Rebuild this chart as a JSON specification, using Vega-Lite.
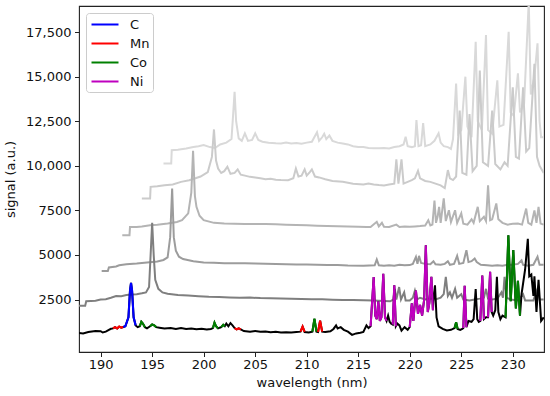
{
"$schema": "https://vega.github.io/schema/vega-lite/v6.json",
"width": 465, "height": 346,
"autosize": {"type": "none"},
"padding": {"left": 79, "top": 6, "right": 6, "bottom": 44},
"background": "white",
"config": {
  "font": "DejaVu Sans",
  "view": {"stroke": "#222222", "strokeWidth": 1.1},
  "axis": {"domain": false, "grid": false, "tickColor": "#222222", "tickSize": 4.5, "tickWidth": 1,
           "labelFontSize": 13, "labelColor": "#111111", "titleFontSize": 13, "titleFontWeight": "normal", "titleColor": "#111111"}
},
"datasets": {
"gray": [
{"s":"g5","w":196.1,"v":10130},{"s":"g5","w":196.85,"v":10130},{"s":"g5","w":196.9,"v":10880},{"s":"g5","w":197.5,"v":10900},{"s":"g5","w":198.3,"v":10970},{"s":"g5","w":199.0,"v":11050},{"s":"g5","w":199.5,"v":11100},{"s":"g5","w":200.0,"v":11160},{"s":"g5","w":200.6,"v":11050},{"s":"g5","w":201.1,"v":11000},{"s":"g5","w":201.6,"v":11200},{"s":"g5","w":202.2,"v":11300},{"s":"g5","w":202.7,"v":11500},{"s":"g5","w":202.85,"v":12800},{"s":"g5","w":203.0,"v":14150},{"s":"g5","w":203.15,"v":12500},{"s":"g5","w":203.4,"v":11540},{"s":"g5","w":203.7,"v":11400},{"s":"g5","w":204.0,"v":11820},{"s":"g5","w":204.3,"v":11400},{"s":"g5","w":204.7,"v":11450},{"s":"g5","w":205.0,"v":11820},{"s":"g5","w":205.3,"v":11450},{"s":"g5","w":205.7,"v":11350},{"s":"g5","w":206.3,"v":11300},{"s":"g5","w":207.0,"v":11260},{"s":"g5","w":207.5,"v":11250},{"s":"g5","w":208.0,"v":11300},{"s":"g5","w":208.5,"v":11250},{"s":"g5","w":209.0,"v":11280},{"s":"g5","w":209.5,"v":11240},{"s":"g5","w":210.0,"v":11300},{"s":"g5","w":210.5,"v":11350},{"s":"g5","w":211.0,"v":11880},{"s":"g5","w":211.2,"v":11400},{"s":"g5","w":211.5,"v":11600},{"s":"g5","w":211.7,"v":11800},{"s":"g5","w":211.9,"v":11500},{"s":"g5","w":212.2,"v":11700},{"s":"g5","w":212.5,"v":11400},{"s":"g5","w":213.0,"v":11300},{"s":"g5","w":213.5,"v":11250},{"s":"g5","w":214.0,"v":11200},{"s":"g5","w":214.5,"v":11100},{"s":"g5","w":215.0,"v":11060},{"s":"g5","w":215.5,"v":11050},{"s":"g5","w":216.0,"v":11000},{"s":"g5","w":216.5,"v":10990},{"s":"g5","w":217.0,"v":10980},{"s":"g5","w":217.5,"v":11000},{"s":"g5","w":218.0,"v":10970},{"s":"g5","w":218.5,"v":11050},{"s":"g5","w":219.0,"v":11100},{"s":"g5","w":219.4,"v":11200},{"s":"g5","w":219.6,"v":11630},{"s":"g5","w":219.8,"v":11100},{"s":"g5","w":220.2,"v":11050},{"s":"g5","w":220.5,"v":11100},{"s":"g5","w":220.65,"v":12560},{"s":"g5","w":220.85,"v":11100},{"s":"g5","w":221.1,"v":11150},{"s":"g5","w":221.3,"v":12400},{"s":"g5","w":221.5,"v":11100},{"s":"g5","w":222.0,"v":11200},{"s":"g5","w":222.4,"v":11400},{"s":"g5","w":222.8,"v":11820},{"s":"g5","w":223.0,"v":11300},{"s":"g5","w":223.3,"v":11100},{"s":"g5","w":223.7,"v":11050},{"s":"g5","w":224.0,"v":10950},{"s":"g5","w":224.2,"v":11500},{"s":"g5","w":224.5,"v":14620},{"s":"g5","w":224.7,"v":11800},{"s":"g5","w":225.0,"v":12000},{"s":"g5","w":225.4,"v":15000},{"s":"g5","w":225.6,"v":12200},{"s":"g5","w":226.0,"v":11600},{"s":"g5","w":226.4,"v":16960},{"s":"g5","w":226.6,"v":12500},{"s":"g5","w":227.0,"v":12000},{"s":"g5","w":227.4,"v":17340},{"s":"g5","w":227.6,"v":12000},{"s":"g5","w":228.0,"v":11800},{"s":"g5","w":228.5,"v":14800},{"s":"g5","w":228.7,"v":12200},{"s":"g5","w":229.1,"v":12300},{"s":"g5","w":229.6,"v":17520},{"s":"g5","w":229.8,"v":13000},{"s":"g5","w":230.1,"v":12800},{"s":"g5","w":230.5,"v":15190},{"s":"g5","w":230.7,"v":13000},{"s":"g5","w":231.1,"v":13500},{"s":"g5","w":231.55,"v":19200},{"s":"g5","w":231.75,"v":14000},{"s":"g5","w":232.1,"v":15000},{"s":"g5","w":232.4,"v":16870},{"s":"g5","w":232.6,"v":12500},{"s":"g5","w":232.75,"v":11600},{"s":"g5","w":233.0,"v":11600},
{"s":"g4","w":194.0,"v":8170},{"s":"g4","w":194.8,"v":8170},{"s":"g4","w":194.85,"v":8820},{"s":"g4","w":195.5,"v":8850},{"s":"g4","w":196.2,"v":8915},{"s":"g4","w":197.0,"v":8950},{"s":"g4","w":197.8,"v":9100},{"s":"g4","w":198.6,"v":9195},{"s":"g4","w":199.2,"v":9300},{"s":"g4","w":199.7,"v":9400},{"s":"g4","w":200.4,"v":9650},{"s":"g4","w":200.8,"v":10500},{"s":"g4","w":201.0,"v":12040},{"s":"g4","w":201.2,"v":10300},{"s":"g4","w":201.4,"v":9850},{"s":"g4","w":201.7,"v":9600},{"s":"g4","w":202.0,"v":9700},{"s":"g4","w":202.3,"v":9950},{"s":"g4","w":202.6,"v":9550},{"s":"g4","w":203.0,"v":9600},{"s":"g4","w":203.3,"v":9800},{"s":"g4","w":203.6,"v":9500},{"s":"g4","w":204.0,"v":9450},{"s":"g4","w":204.5,"v":9380},{"s":"g4","w":205.0,"v":9350},{"s":"g4","w":205.5,"v":9300},{"s":"g4","w":206.0,"v":9250},{"s":"g4","w":206.5,"v":9280},{"s":"g4","w":207.0,"v":9220},{"s":"g4","w":207.5,"v":9200},{"s":"g4","w":208.2,"v":9195},{"s":"g4","w":208.7,"v":9300},{"s":"g4","w":208.95,"v":9850},{"s":"g4","w":209.2,"v":9400},{"s":"g4","w":209.5,"v":9450},{"s":"g4","w":209.8,"v":9800},{"s":"g4","w":210.0,"v":9450},{"s":"g4","w":210.3,"v":9650},{"s":"g4","w":210.5,"v":9800},{"s":"g4","w":210.8,"v":9400},{"s":"g4","w":211.2,"v":9350},{"s":"g4","w":211.8,"v":9250},{"s":"g4","w":212.5,"v":9150},{"s":"g4","w":213.5,"v":9100},{"s":"g4","w":214.5,"v":9000},{"s":"g4","w":215.5,"v":8950},{"s":"g4","w":216.0,"v":9010},{"s":"g4","w":216.5,"v":8950},{"s":"g4","w":217.0,"v":8920},{"s":"g4","w":217.5,"v":8900},{"s":"g4","w":218.0,"v":8950},{"s":"g4","w":218.5,"v":9000},{"s":"g4","w":218.7,"v":10360},{"s":"g4","w":218.9,"v":9000},{"s":"g4","w":219.2,"v":10360},{"s":"g4","w":219.4,"v":9000},{"s":"g4","w":219.8,"v":9100},{"s":"g4","w":220.2,"v":9200},{"s":"g4","w":220.5,"v":9300},{"s":"g4","w":220.8,"v":9720},{"s":"g4","w":221.0,"v":9300},{"s":"g4","w":221.5,"v":9150},{"s":"g4","w":222.0,"v":9100},{"s":"g4","w":222.5,"v":9000},{"s":"g4","w":223.0,"v":8900},{"s":"g4","w":223.4,"v":8750},{"s":"g4","w":223.7,"v":9760},{"s":"g4","w":223.9,"v":9300},{"s":"g4","w":224.2,"v":9200},{"s":"g4","w":224.5,"v":9400},{"s":"g4","w":224.85,"v":13100},{"s":"g4","w":225.1,"v":9600},{"s":"g4","w":225.5,"v":9500},{"s":"g4","w":225.8,"v":12900},{"s":"g4","w":226.1,"v":9700},{"s":"g4","w":226.5,"v":10000},{"s":"g4","w":226.8,"v":15340},{"s":"g4","w":227.1,"v":10200},{"s":"g4","w":227.6,"v":10000},{"s":"g4","w":228.0,"v":13100},{"s":"g4","w":228.3,"v":10100},{"s":"g4","w":228.8,"v":9800},{"s":"g4","w":229.2,"v":10200},{"s":"g4","w":229.5,"v":10000},{"s":"g4","w":230.0,"v":14400},{"s":"g4","w":230.3,"v":10500},{"s":"g4","w":230.6,"v":10400},{"s":"g4","w":231.0,"v":14400},{"s":"g4","w":231.3,"v":10800},{"s":"g4","w":231.6,"v":11000},{"s":"g4","w":232.1,"v":15720},{"s":"g4","w":232.35,"v":10500},{"s":"g4","w":232.6,"v":10000},{"s":"g4","w":233.0,"v":9600},
{"s":"g3","w":192.1,"v":6110},{"s":"g3","w":192.8,"v":6110},{"s":"g3","w":192.85,"v":6570},{"s":"g3","w":193.5,"v":6570},{"s":"g3","w":194.0,"v":6600},{"s":"g3","w":194.8,"v":6670},{"s":"g3","w":195.5,"v":6700},{"s":"g3","w":196.5,"v":6760},{"s":"g3","w":197.4,"v":6850},{"s":"g3","w":197.9,"v":6950},{"s":"g3","w":198.5,"v":7330},{"s":"g3","w":198.8,"v":8500},{"s":"g3","w":198.97,"v":10840},{"s":"g3","w":199.15,"v":8300},{"s":"g3","w":199.3,"v":7700},{"s":"g3","w":199.6,"v":7200},{"s":"g3","w":200.0,"v":6950},{"s":"g3","w":201.0,"v":6800},{"s":"g3","w":202.0,"v":6760},{"s":"g3","w":203.0,"v":6750},{"s":"g3","w":204.0,"v":6740},{"s":"g3","w":205.0,"v":6740},{"s":"g3","w":206.0,"v":6730},{"s":"g3","w":207.0,"v":6720},{"s":"g3","w":208.0,"v":6700},{"s":"g3","w":209.0,"v":6680},{"s":"g3","w":210.0,"v":6660},{"s":"g3","w":211.0,"v":6640},{"s":"g3","w":212.0,"v":6620},{"s":"g3","w":213.0,"v":6610},{"s":"g3","w":214.0,"v":6600},{"s":"g3","w":215.0,"v":6580},{"s":"g3","w":215.8,"v":6570},{"s":"g3","w":216.2,"v":6570},{"s":"g3","w":216.8,"v":6860},{"s":"g3","w":217.0,"v":6600},{"s":"g3","w":217.3,"v":6800},{"s":"g3","w":217.5,"v":6580},{"s":"g3","w":218.0,"v":6570},{"s":"g3","w":218.7,"v":6700},{"s":"g3","w":219.0,"v":6570},{"s":"g3","w":219.5,"v":6600},{"s":"g3","w":220.0,"v":6580},{"s":"g3","w":220.5,"v":6600},{"s":"g3","w":221.0,"v":6620},{"s":"g3","w":221.5,"v":6650},{"s":"g3","w":221.8,"v":6950},{"s":"g3","w":222.0,"v":6650},{"s":"g3","w":222.2,"v":6700},{"s":"g3","w":222.4,"v":8050},{"s":"g3","w":222.55,"v":6800},{"s":"g3","w":222.7,"v":7140},{"s":"g3","w":222.85,"v":7700},{"s":"g3","w":223.0,"v":6800},{"s":"g3","w":223.3,"v":8170},{"s":"g3","w":223.5,"v":6900},{"s":"g3","w":223.8,"v":7510},{"s":"g3","w":224.0,"v":6850},{"s":"g3","w":224.4,"v":7510},{"s":"g3","w":224.6,"v":6800},{"s":"g3","w":225.0,"v":7330},{"s":"g3","w":225.2,"v":6750},{"s":"g3","w":225.6,"v":6700},{"s":"g3","w":226.0,"v":7000},{"s":"g3","w":226.2,"v":6800},{"s":"g3","w":226.6,"v":7700},{"s":"g3","w":226.8,"v":6900},{"s":"g3","w":227.2,"v":7140},{"s":"g3","w":227.4,"v":6900},{"s":"g3","w":227.6,"v":8900},{"s":"g3","w":227.8,"v":6950},{"s":"g3","w":228.0,"v":7000},{"s":"g3","w":228.4,"v":7890},{"s":"g3","w":228.6,"v":7000},{"s":"g3","w":229.0,"v":6800},{"s":"g3","w":229.5,"v":6700},{"s":"g3","w":230.0,"v":6750},{"s":"g3","w":230.5,"v":6760},{"s":"g3","w":230.9,"v":6700},{"s":"g3","w":231.3,"v":7600},{"s":"g3","w":231.5,"v":6800},{"s":"g3","w":231.8,"v":6700},{"s":"g3","w":232.1,"v":7500},{"s":"g3","w":232.3,"v":6800},{"s":"g3","w":232.5,"v":7700},{"s":"g3","w":232.7,"v":6760},{"s":"g3","w":233.0,"v":6700},
{"s":"g2","w":190.1,"v":4100},{"s":"g2","w":190.7,"v":4100},{"s":"g2","w":190.8,"v":4300},{"s":"g2","w":191.5,"v":4350},{"s":"g2","w":191.8,"v":4420},{"s":"g2","w":192.5,"v":4480},{"s":"g2","w":193.5,"v":4520},{"s":"g2","w":194.5,"v":4580},{"s":"g2","w":195.5,"v":4630},{"s":"g2","w":196.1,"v":4720},{"s":"g2","w":196.5,"v":4860},{"s":"g2","w":196.75,"v":6000},{"s":"g2","w":196.94,"v":8730},{"s":"g2","w":197.1,"v":6000},{"s":"g2","w":197.3,"v":5240},{"s":"g2","w":197.6,"v":4900},{"s":"g2","w":198.0,"v":4770},{"s":"g2","w":199.0,"v":4650},{"s":"g2","w":200.0,"v":4580},{"s":"g2","w":201.0,"v":4560},{"s":"g2","w":202.0,"v":4540},{"s":"g2","w":203.0,"v":4540},{"s":"g2","w":204.0,"v":4530},{"s":"g2","w":205.0,"v":4520},{"s":"g2","w":206.0,"v":4510},{"s":"g2","w":207.0,"v":4490},{"s":"g2","w":208.0,"v":4480},{"s":"g2","w":209.0,"v":4470},{"s":"g2","w":210.0,"v":4460},{"s":"g2","w":211.0,"v":4450},{"s":"g2","w":212.0,"v":4440},{"s":"g2","w":213.0,"v":4430},{"s":"g2","w":214.0,"v":4410},{"s":"g2","w":215.5,"v":4400},{"s":"g2","w":216.6,"v":4420},{"s":"g2","w":216.8,"v":4750},{"s":"g2","w":217.0,"v":4420},{"s":"g2","w":217.5,"v":4400},{"s":"g2","w":218.0,"v":4420},{"s":"g2","w":218.5,"v":4400},{"s":"g2","w":219.0,"v":4450},{"s":"g2","w":219.5,"v":4420},{"s":"g2","w":220.0,"v":4430},{"s":"g2","w":220.3,"v":4500},{"s":"g2","w":220.6,"v":4890},{"s":"g2","w":220.75,"v":4500},{"s":"g2","w":220.9,"v":4950},{"s":"g2","w":221.1,"v":4550},{"s":"g2","w":221.5,"v":4500},{"s":"g2","w":222.0,"v":4480},{"s":"g2","w":222.3,"v":4650},{"s":"g2","w":222.5,"v":4480},{"s":"g2","w":223.0,"v":4450},{"s":"g2","w":223.4,"v":4500},{"s":"g2","w":223.7,"v":4650},{"s":"g2","w":223.9,"v":4450},{"s":"g2","w":224.3,"v":4500},{"s":"g2","w":224.6,"v":4950},{"s":"g2","w":224.8,"v":4500},{"s":"g2","w":225.2,"v":4550},{"s":"g2","w":225.5,"v":5270},{"s":"g2","w":225.7,"v":4600},{"s":"g2","w":226.0,"v":4650},{"s":"g2","w":226.3,"v":4800},{"s":"g2","w":226.5,"v":4600},{"s":"g2","w":226.9,"v":4450},{"s":"g2","w":227.5,"v":4420},{"s":"g2","w":228.0,"v":4400},{"s":"g2","w":228.5,"v":4420},{"s":"g2","w":229.0,"v":4400},{"s":"g2","w":229.5,"v":4450},{"s":"g2","w":230.0,"v":4450},{"s":"g2","w":230.5,"v":4500},{"s":"g2","w":230.85,"v":4700},{"s":"g2","w":231.0,"v":4450},{"s":"g2","w":231.5,"v":4400},{"s":"g2","w":232.0,"v":4450},{"s":"g2","w":232.4,"v":4900},{"s":"g2","w":232.6,"v":4450},{"s":"g2","w":233.0,"v":4450},
{"s":"g1","w":187.9,"v":2150},{"s":"g1","w":188.5,"v":2150},{"s":"g1","w":188.6,"v":2400},{"s":"g1","w":189.5,"v":2430},{"s":"g1","w":190.0,"v":2500},{"s":"g1","w":190.5,"v":2520},{"s":"g1","w":191.0,"v":2600},{"s":"g1","w":191.5,"v":2700},{"s":"g1","w":192.0,"v":2680},{"s":"g1","w":192.5,"v":2750},{"s":"g1","w":193.0,"v":2780},{"s":"g1","w":193.5,"v":2800},{"s":"g1","w":194.0,"v":2850},{"s":"g1","w":194.4,"v":2900},{"s":"g1","w":194.7,"v":3200},{"s":"g1","w":194.85,"v":5000},{"s":"g1","w":195.0,"v":6800},{"s":"g1","w":195.15,"v":5000},{"s":"g1","w":195.3,"v":3600},{"s":"g1","w":195.6,"v":3100},{"s":"g1","w":196.0,"v":2900},{"s":"g1","w":196.5,"v":2820},{"s":"g1","w":197.5,"v":2750},{"s":"g1","w":198.5,"v":2720},{"s":"g1","w":199.5,"v":2680},{"s":"g1","w":200.5,"v":2650},{"s":"g1","w":201.5,"v":2640},{"s":"g1","w":202.5,"v":2620},{"s":"g1","w":203.5,"v":2600},{"s":"g1","w":204.5,"v":2610},{"s":"g1","w":205.5,"v":2580},{"s":"g1","w":206.5,"v":2570},{"s":"g1","w":207.5,"v":2560},{"s":"g1","w":208.5,"v":2540},{"s":"g1","w":209.5,"v":2530},{"s":"g1","w":210.5,"v":2520},{"s":"g1","w":211.5,"v":2510},{"s":"g1","w":212.5,"v":2490},{"s":"g1","w":213.5,"v":2480},{"s":"g1","w":214.5,"v":2470},{"s":"g1","w":215.5,"v":2460},{"s":"g1","w":216.5,"v":2440},{"s":"g1","w":217.5,"v":2420},{"s":"g1","w":218.1,"v":2400},{"s":"g1","w":218.4,"v":2500},{"s":"g1","w":218.55,"v":3100},{"s":"g1","w":218.7,"v":2500},{"s":"g1","w":218.97,"v":3200},{"s":"g1","w":219.15,"v":2500},{"s":"g1","w":219.46,"v":2900},{"s":"g1","w":219.6,"v":2450},{"s":"g1","w":220.0,"v":2450},{"s":"g1","w":220.3,"v":2600},{"s":"g1","w":220.5,"v":3000},{"s":"g1","w":220.7,"v":2500},{"s":"g1","w":221.0,"v":2600},{"s":"g1","w":221.5,"v":2500},{"s":"g1","w":222.0,"v":2550},{"s":"g1","w":222.5,"v":2500},{"s":"g1","w":223.0,"v":2600},{"s":"g1","w":223.3,"v":2800},{"s":"g1","w":223.5,"v":3770},{"s":"g1","w":223.7,"v":2700},{"s":"g1","w":223.9,"v":2900},{"s":"g1","w":224.1,"v":2600},{"s":"g1","w":224.4,"v":3100},{"s":"g1","w":224.6,"v":2600},{"s":"g1","w":225.0,"v":2800},{"s":"g1","w":225.2,"v":2500},{"s":"g1","w":225.8,"v":2450},{"s":"g1","w":226.3,"v":2500},{"s":"g1","w":226.8,"v":2550},{"s":"g1","w":227.2,"v":2600},{"s":"g1","w":227.4,"v":3100},{"s":"g1","w":227.6,"v":2550},{"s":"g1","w":228.0,"v":2500},{"s":"g1","w":228.5,"v":2550},{"s":"g1","w":228.9,"v":2900},{"s":"g1","w":229.05,"v":2600},{"s":"g1","w":229.2,"v":3770},{"s":"g1","w":229.4,"v":2600},{"s":"g1","w":229.8,"v":2500},{"s":"g1","w":230.5,"v":2450},{"s":"g1","w":231.0,"v":2800},{"s":"g1","w":231.2,"v":2450},{"s":"g1","w":232.0,"v":2450},{"s":"g1","w":232.4,"v":3100},{"s":"g1","w":232.6,"v":2500},{"s":"g1","w":233.0,"v":2500}
],
"black": [
{"w":187.9,"v":620},{"w":188.3,"v":600},{"w":188.8,"v":680},{"w":189.5,"v":740},{"w":190.0,"v":720},{"w":190.2,"v":650},{"w":190.5,"v":700},{"w":190.8,"v":800},{"w":191.0,"v":860},{"w":191.2,"v":880},{"w":191.4,"v":950},{"w":191.6,"v":880},{"w":191.8,"v":980},{"w":192.0,"v":920},{"w":192.2,"v":960},{"w":192.4,"v":1000},{"w":192.7,"v":1500},{"w":192.85,"v":3000},{"w":192.95,"v":3430},{"w":193.05,"v":3000},{"w":193.2,"v":1500},{"w":193.4,"v":1050},{"w":193.6,"v":950},{"w":193.8,"v":1000},{"w":193.95,"v":1250},{"w":194.1,"v":1150},{"w":194.3,"v":950},{"w":194.5,"v":880},{"w":194.8,"v":1000},{"w":195.0,"v":1100},{"w":195.2,"v":1050},{"w":195.4,"v":950},{"w":195.7,"v":920},{"w":196.2,"v":870},{"w":196.8,"v":900},{"w":197.3,"v":850},{"w":197.8,"v":900},{"w":198.3,"v":850},{"w":198.8,"v":880},{"w":199.3,"v":840},{"w":199.8,"v":860},{"w":200.3,"v":820},{"w":200.7,"v":850},{"w":200.9,"v":900},{"w":201.05,"v":1200},{"w":201.2,"v":1000},{"w":201.4,"v":880},{"w":201.55,"v":920},{"w":201.7,"v":950},{"w":201.9,"v":1080},{"w":202.05,"v":1000},{"w":202.2,"v":1150},{"w":202.4,"v":1000},{"w":202.6,"v":1180},{"w":202.8,"v":1050},{"w":203.0,"v":900},{"w":203.2,"v":830},{"w":203.4,"v":880},{"w":203.6,"v":820},{"w":203.9,"v":730},{"w":204.5,"v":700},{"w":205.0,"v":740},{"w":205.5,"v":690},{"w":206.0,"v":700},{"w":206.5,"v":660},{"w":207.0,"v":690},{"w":207.5,"v":650},{"w":208.0,"v":670},{"w":208.5,"v":650},{"w":209.0,"v":680},{"w":209.4,"v":700},{"w":209.6,"v":980},{"w":209.8,"v":680},{"w":210.2,"v":650},{"w":210.55,"v":700},{"w":210.75,"v":1420},{"w":210.95,"v":700},{"w":211.1,"v":680},{"w":211.3,"v":1320},{"w":211.5,"v":700},{"w":211.8,"v":680},{"w":212.3,"v":720},{"w":212.6,"v":850},{"w":212.85,"v":1050},{"w":213.0,"v":880},{"w":213.3,"v":950},{"w":213.6,"v":800},{"w":214.0,"v":700},{"w":214.4,"v":520},{"w":214.8,"v":600},{"w":215.2,"v":640},{"w":215.5,"v":680},{"w":215.8,"v":1050},{"w":216.0,"v":900},{"w":216.2,"v":1000},{"w":216.5,"v":3760},{"w":216.65,"v":1600},{"w":216.8,"v":1400},{"w":216.95,"v":2400},{"w":217.1,"v":1300},{"w":217.25,"v":1500},{"w":217.43,"v":3950},{"w":217.6,"v":1500},{"w":217.75,"v":1300},{"w":217.9,"v":1600},{"w":218.05,"v":1250},{"w":218.2,"v":1150},{"w":218.35,"v":1100},{"w":218.5,"v":3300},{"w":218.65,"v":1000},{"w":218.8,"v":1150},{"w":219.0,"v":1050},{"w":219.2,"v":760},{"w":219.5,"v":950},{"w":219.8,"v":800},{"w":220.0,"v":960},{"w":220.2,"v":2280},{"w":220.35,"v":1300},{"w":220.6,"v":3000},{"w":220.8,"v":1700},{"w":221.0,"v":2200},{"w":221.2,"v":1600},{"w":221.4,"v":2500},{"w":221.56,"v":5540},{"w":221.75,"v":1800},{"w":221.9,"v":2300},{"w":222.1,"v":3770},{"w":222.25,"v":1900},{"w":222.3,"v":2500},{"w":222.45,"v":3300},{"w":222.6,"v":1500},{"w":222.8,"v":1000},{"w":223.2,"v":850},{"w":223.6,"v":770},{"w":224.0,"v":800},{"w":224.35,"v":900},{"w":224.5,"v":1220},{"w":224.65,"v":850},{"w":224.9,"v":800},{"w":225.1,"v":850},{"w":225.2,"v":900},{"w":225.33,"v":3270},{"w":225.5,"v":950},{"w":225.7,"v":1300},{"w":226.0,"v":1250},{"w":226.2,"v":1400},{"w":226.4,"v":3090},{"w":226.55,"v":1400},{"w":226.7,"v":1250},{"w":226.85,"v":1300},{"w":227.04,"v":3840},{"w":227.2,"v":1400},{"w":227.4,"v":1500},{"w":227.6,"v":1500},{"w":227.8,"v":4050},{"w":227.95,"v":1800},{"w":228.1,"v":1600},{"w":228.3,"v":1900},{"w":228.46,"v":3770},{"w":228.6,"v":1800},{"w":228.8,"v":1400},{"w":229.0,"v":1600},{"w":229.3,"v":1500},{"w":229.57,"v":6110},{"w":229.8,"v":2400},{"w":230.05,"v":5270},{"w":230.3,"v":2000},{"w":230.5,"v":3550},{"w":230.7,"v":1600},{"w":230.85,"v":2800},{"w":231.0,"v":3400},{"w":231.2,"v":4200},{"w":231.46,"v":5900},{"w":231.6,"v":3800},{"w":231.8,"v":3900},{"w":232.0,"v":2700},{"w":232.1,"v":3800},{"w":232.3,"v":1800},{"w":232.5,"v":3600},{"w":232.75,"v":1300},{"w":233.0,"v":1500}
],
"elem": [
{"el":"Mn","seg":1,"w":191.2,"v":880},{"el":"Mn","seg":1,"w":191.4,"v":950},{"el":"Mn","seg":1,"w":191.6,"v":880},{"el":"Mn","seg":1,"w":191.8,"v":980},{"el":"Mn","seg":1,"w":192.0,"v":920},{"el":"Mn","seg":1,"w":192.2,"v":960},
{"el":"C","seg":2,"w":192.2,"v":960},{"el":"C","seg":2,"w":192.4,"v":1000},{"el":"C","seg":2,"w":192.7,"v":1500},{"el":"C","seg":2,"w":192.85,"v":3000},{"el":"C","seg":2,"w":192.95,"v":3430},{"el":"C","seg":2,"w":193.05,"v":3000},{"el":"C","seg":2,"w":193.2,"v":1500},{"el":"C","seg":2,"w":193.4,"v":1050},
{"el":"Co","seg":3,"w":193.8,"v":1000},{"el":"Co","seg":3,"w":193.95,"v":1250},{"el":"Co","seg":3,"w":194.1,"v":1150},{"el":"Co","seg":3,"w":194.3,"v":950},
{"el":"Co","seg":4,"w":194.8,"v":1000},{"el":"Co","seg":4,"w":195.0,"v":1100},{"el":"Co","seg":4,"w":195.2,"v":1050},{"el":"Co","seg":4,"w":195.4,"v":950},
{"el":"Co","seg":5,"w":200.9,"v":900},{"el":"Co","seg":5,"w":201.05,"v":1200},{"el":"Co","seg":5,"w":201.2,"v":1000},{"el":"Co","seg":5,"w":201.4,"v":880},
{"el":"Co","seg":6,"w":201.7,"v":950},{"el":"Co","seg":6,"w":201.9,"v":1080},{"el":"Co","seg":6,"w":202.05,"v":1000},
{"el":"Mn","seg":7,"w":203.0,"v":900},{"el":"Mn","seg":7,"w":203.2,"v":830},{"el":"Mn","seg":7,"w":203.4,"v":880},{"el":"Mn","seg":7,"w":203.6,"v":820},
{"el":"Mn","seg":8,"w":209.4,"v":700},{"el":"Mn","seg":8,"w":209.6,"v":980},{"el":"Mn","seg":8,"w":209.8,"v":680},
{"el":"Co","seg":9,"w":210.55,"v":700},{"el":"Co","seg":9,"w":210.75,"v":1420},{"el":"Co","seg":9,"w":210.95,"v":700},
{"el":"Mn","seg":10,"w":211.1,"v":680},{"el":"Mn","seg":10,"w":211.3,"v":1320},{"el":"Mn","seg":10,"w":211.5,"v":700},
{"el":"Ni","seg":11,"w":216.2,"v":1000},{"el":"Ni","seg":11,"w":216.5,"v":3760},{"el":"Ni","seg":11,"w":216.65,"v":1600},{"el":"Ni","seg":11,"w":216.8,"v":1400},{"el":"Ni","seg":11,"w":216.95,"v":2400},{"el":"Ni","seg":11,"w":217.1,"v":1300},{"el":"Ni","seg":11,"w":217.25,"v":1500},{"el":"Ni","seg":11,"w":217.43,"v":3950},{"el":"Ni","seg":11,"w":217.6,"v":1500},{"el":"Ni","seg":11,"w":217.75,"v":1300},
{"el":"Ni","seg":12,"w":218.35,"v":1100},{"el":"Ni","seg":12,"w":218.5,"v":3300},{"el":"Ni","seg":12,"w":218.65,"v":1000},
{"el":"Ni","seg":13,"w":220.0,"v":960},{"el":"Ni","seg":13,"w":220.2,"v":2280},{"el":"Ni","seg":13,"w":220.35,"v":1300},{"el":"Ni","seg":13,"w":220.6,"v":3000},{"el":"Ni","seg":13,"w":220.8,"v":1700},{"el":"Ni","seg":13,"w":221.0,"v":2200},{"el":"Ni","seg":13,"w":221.2,"v":1600},{"el":"Ni","seg":13,"w":221.4,"v":2500},{"el":"Ni","seg":13,"w":221.56,"v":5540},{"el":"Ni","seg":13,"w":221.75,"v":1800},{"el":"Ni","seg":13,"w":221.9,"v":2300},{"el":"Ni","seg":13,"w":222.1,"v":3770},{"el":"Ni","seg":13,"w":222.25,"v":1900},
{"el":"Co","seg":14,"w":224.35,"v":900},{"el":"Co","seg":14,"w":224.5,"v":1220},{"el":"Co","seg":14,"w":224.65,"v":850},
{"el":"Ni","seg":15,"w":225.2,"v":900},{"el":"Ni","seg":15,"w":225.33,"v":3270},{"el":"Ni","seg":15,"w":225.5,"v":950},
{"el":"Ni","seg":16,"w":226.85,"v":1300},{"el":"Ni","seg":16,"w":227.04,"v":3840},{"el":"Ni","seg":16,"w":227.2,"v":1400},
{"el":"Ni","seg":17,"w":227.6,"v":1500},{"el":"Ni","seg":17,"w":227.8,"v":4050},{"el":"Ni","seg":17,"w":227.95,"v":1800},
{"el":"Co","seg":18,"w":229.3,"v":1500},{"el":"Co","seg":18,"w":229.57,"v":6110},{"el":"Co","seg":18,"w":229.8,"v":2400},{"el":"Co","seg":18,"w":230.05,"v":5270},{"el":"Co","seg":18,"w":230.3,"v":2000},{"el":"Co","seg":18,"w":230.5,"v":3550},{"el":"Co","seg":18,"w":230.7,"v":1600}
]
},
"encoding": {
  "x": {"field": "w", "type": "quantitative", "title": "wavelength (nm)",
        "scale": {"domain": [187.9, 233.03], "nice": false, "zero": false},
        "axis": {"values": [190,195,200,205,210,215,220,225,230], "labelPadding": 2, "titlePadding": 5}},
  "y": {"field": "v", "type": "quantitative", "title": "signal (a.u.)",
        "scale": {"domain": [-443, 18964], "nice": false, "zero": false},
        "axis": {"values": [2500,5000,7500,10000,12500,15000,17500], "labelPadding": 3.5, "titlePadding": 8,
                 "labelExpr": "datum.value >= 10000 ? format(datum.value, ',') : format(datum.value, 'd')"}}
},
"layer": [
  {"data": {"name": "gray"},
   "mark": {"type": "line", "strokeWidth": 2, "clip": true, "interpolate": "linear"},
   "encoding": {"color": {"field": "s", "type": "nominal", "legend": null,
      "scale": {"domain": ["g5","g4","g3","g2","g1"], "range": ["#d9d9d9","#cbcbcb","#b4b4b4","#9c9c9c","#7f7f7f"]}},
      "order": {"field": "w"}}},
  {"data": {"name": "black"},
   "mark": {"type": "line", "strokeWidth": 2, "color": "#000000", "clip": true},
   "encoding": {"order": {"field": "w"}}},
  {"data": {"name": "elem"},
   "mark": {"type": "line", "strokeWidth": 2.1, "clip": true},
   "encoding": {
     "color": {"field": "el", "type": "nominal",
       "scale": {"domain": ["C","Mn","Co","Ni"], "range": ["#0000ff","#ff0000","#008000","#bf00bf"]},
       "legend": {"title": null, "orient": "none", "legendX": 7, "legendY": 7,
                  "symbolType": "M-0.8,0H2.8", "symbolSize": 225, "symbolStrokeWidth": 2,
                  "labelFontSize": 13, "labelColor": "#111111", "labelOffset": 24, "rowPadding": 3,
                  "padding": 3, "fillColor": "white", "strokeColor": "#cccccc", "cornerRadius": 3}},
     "detail": {"field": "seg", "type": "nominal"},
     "order": {"field": "w"}}}
],
"resolve": {"scale": {"color": "independent"}}
}
